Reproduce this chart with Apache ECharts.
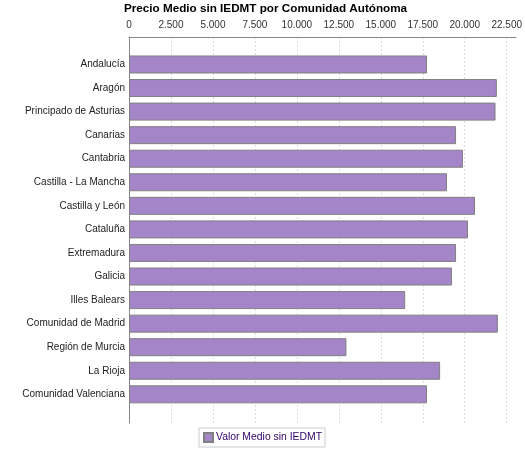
<!DOCTYPE html>
<html>
<head>
<meta charset="utf-8">
<script src="https://cdn.jsdelivr.net/npm/echarts@6/dist/echarts.min.js"></script>
<style>html,body{margin:0;padding:0;background:#fff}#c{width:525px;height:450px}</style>
</head>
<body>
<div id="c"></div>
<script>
const categories = ["Andalucía","Aragón","Principado de Asturias","Canarias","Cantabria","Castilla - La Mancha","Castilla y León","Cataluña","Extremadura","Galicia","Illes Balears","Comunidad de Madrid","Región de Murcia","La Rioja","Comunidad Valenciana"];
const values = [17750, 21910, 21830, 19480, 19890, 18940, 20610, 20190, 19480, 19240, 16450, 21970, 12950, 18530, 17750];
const seriesName = "Valor Medio sin IEDMT";
const titleText = "Precio Medio sin IEDMT por Comunidad Autónoma";

const AXMAX = 23050;
const fmt = v => String(Math.round(v)).replace(/\B(?=(\d{3})+(?!\d))/g, '.');
const chart = echarts.init(document.getElementById('c'));
chart.setOption({
  animation: false,
  backgroundColor: '#fff',
  title: { text: titleText, left: 124, top: 3, padding: 0, textStyle: { fontFamily: 'Liberation Sans', fontSize: 11.7, fontWeight: 'bold', color: '#000' } },
  grid: [
    { left: 129, right: 9, top: 37, bottom: 27 },
    { left: 129, right: 9, top: 52.7, bottom: 43.9 }
  ],
  xAxis: [
    { gridIndex: 0, type: 'value', position: 'top', min: 0, max: AXMAX, interval: 2500,
      axisLine: { show: true, onZero: false, lineStyle: { color: '#888' } },
      axisTick: { show: false },
      axisLabel: { margin: 7, fontFamily: 'Liberation Sans', fontSize: 10, color: '#333', showMaxLabel: false, formatter: fmt },
      splitLine: { show: true, showMaxLine: false, lineStyle: { color: '#dcdcdc', type: [2, 2] } } },
    { gridIndex: 1, type: 'value', min: 0, max: AXMAX, show: false, splitLine: { show: false } }
  ],
  yAxis: [
    { gridIndex: 0, type: 'value', min: 0, max: 1,
      axisLine: { show: true, onZero: false, lineStyle: { color: '#888' } },
      axisTick: { show: false }, axisLabel: { show: false }, splitLine: { show: false } },
    { gridIndex: 1, type: 'category', data: categories, inverse: true,
      axisLine: { show: false }, axisTick: { show: false },
      axisLabel: { margin: 4, fontFamily: 'Liberation Sans', fontSize: 10, color: '#222' } }
  ],
  legend: {
    left: 199, top: 428, data: [seriesName], icon: 'rect', itemWidth: 9, itemHeight: 9, itemGap: 5,
    borderColor: '#ccc', borderWidth: 1, padding: [4, 3, 4, 4],
    textStyle: { fontFamily: 'Liberation Sans', fontSize: 10.4, color: '#330066', padding: [0, 0, 0, -2] }
  },
  series: [{
    name: seriesName, type: 'bar', xAxisIndex: 1, yAxisIndex: 1, data: values, barWidth: 18,
    itemStyle: { color: '#a385c8', borderColor: '#808080', borderWidth: 1 }
  }]
});
</script>
</body>
</html>
